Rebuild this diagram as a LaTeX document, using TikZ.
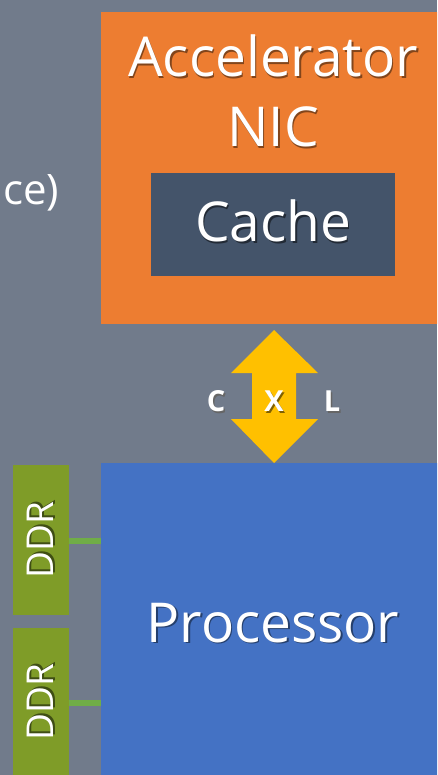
\documentclass[tikz,border=0pt]{standalone}
\usepackage{fontspec}
\setmainfont{Open Sans}
\definecolor{bggray}{HTML}{717B8B}
\definecolor{accorange}{HTML}{ED7D31}
\definecolor{cachegray}{HTML}{44546A}
\definecolor{procblue}{HTML}{4472C4}
\definecolor{ddrgreen}{HTML}{7F9C28}
\definecolor{linkgreen}{HTML}{70AD47}
\definecolor{cxlyellow}{HTML}{FFC000}
\newcommand\shtxt[2]{\makebox[0pt][l]{\hspace{1.6pt}\raisebox{-1.6pt}{\textcolor{#1}{#2}}}#2}
\tikzset{
  blk/.style={rectangle, draw=none, inner sep=0pt, anchor=north west},
  lbl/.style={text=white, inner sep=0pt, font=\fontsize{55}{60}\selectfont, align=center},
  ddrlbl/.style={text=white, inner sep=0pt, font=\fontsize{37}{40}\selectfont, rotate=90},
  cxllbl/.style={text=white, inner sep=0pt, font=\bfseries\fontsize{29}{34}\selectfont},
  link/.style={draw=linkgreen, line width=5.5pt}
}
\begin{document}
\begin{tikzpicture}[x=1pt,y=-1pt]
\useasboundingbox (0,0) rectangle (437,775);
\clip (0,0) rectangle (437,775);
\fill[bggray] (0,0) rectangle (437,775);
% accelerator
\node[blk, fill=accorange, minimum width=350pt, minimum height=312pt] (acc) at (101,12) {};
\node[lbl, anchor=base] (acct) at (273,77) {\shtxt{accorange!55!black}{Accelerator}};
\node[lbl, anchor=base] (nict) at (273,147) {\shtxt{accorange!55!black}{NIC}};
\node[blk, fill=cachegray, minimum width=244pt, minimum height=103pt] (cache) at (151,173) {};
\node[lbl, anchor=base] (cachet) at (cache.center |- 0,242) {\shtxt{cachegray!50!black}{Cache}};
% partial label
\node[lbl, anchor=base west, font=\fontsize{42}{46}\selectfont] (dev) at (3,205) {ce)};
% processor
\node[blk, fill=procblue, minimum width=350pt, minimum height=320pt] (proc) at (101,463) {};
\node[lbl, anchor=base] (proct) at (273,642) {\shtxt{procblue!55!black}{Processor}};
% DDR
\node[blk, fill=ddrgreen, minimum width=56pt, minimum height=150pt] (ddr1) at (13,465) {};
\node[blk, fill=ddrgreen, minimum width=56pt, minimum height=160pt] (ddr2) at (13,628) {};
\node[ddrlbl] (ddr1t) at (41,540) {\shtxt{ddrgreen!50!black}{DDR}};
\node[ddrlbl] (ddr2t) at (41,702) {\shtxt{ddrgreen!50!black}{DDR}};
\draw[link] (ddr1.east |- 0,541) -- (proc.west |- 0,541);
\draw[link] (ddr2.east |- 0,703) -- (proc.west |- 0,703);
% CXL arrow
\fill[cxlyellow] (274,330) -- (318,373) -- (296,373) -- (296,419) -- (318,419) -- (274,463)
  -- (231,419) -- (252,419) -- (252,373) -- (231,373) -- cycle;
\node[cxllbl] (c) at (216,402) {\shtxt{black!60}{C}};
\node[cxllbl] (x) at (274,402) {\shtxt{cxlyellow!50!black}{X}};
\node[cxllbl] (l) at (332,402) {\shtxt{black!60}{L}};
\end{tikzpicture}
\end{document}
